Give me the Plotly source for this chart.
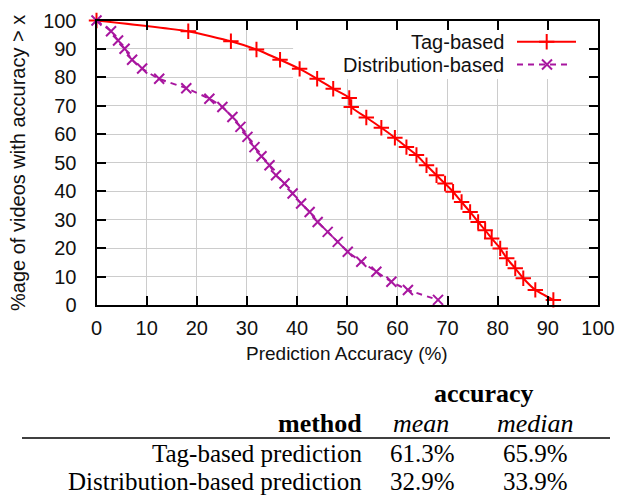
import plotly.graph_objects as go

# ---------------- data ----------------
tag_x = [0, 18.3, 26.8, 31.9, 36.6, 40.5, 44.0, 47.2, 50.4, 50.8, 53.8, 56.8, 59.5, 61.8, 63.8,
         65.8, 67.8, 69.5, 71.1, 72.8, 74.5, 76.1, 77.5, 78.8, 80.5, 81.8, 83.5, 85.1, 87.5, 91.1]
tag_y = [100, 96.2, 92.7, 89.8, 86.2, 83.0, 79.5, 76.0, 72.8, 69.6, 65.9, 62.3, 58.8, 55.5, 52.7,
         49.1, 45.6, 42.7, 39.8, 36.2, 32.7, 29.2, 26.3, 23.4, 19.9, 16.4, 12.9, 9.4, 5.3, 1.8]

dist_x = [0, 2.9, 4.3, 5.6, 7.1, 9.1, 12.5, 17.9, 22.5, 25.1, 27.1, 28.7, 30.1, 31.5, 32.9,
          34.5, 35.8, 37.5, 39.1, 40.8, 42.5, 44.1, 46.1, 48.1, 50.1, 52.8, 55.8, 58.8, 62.1, 68.1]
dist_y = [100, 96.2, 93.0, 90.1, 86.2, 83.1, 79.5, 76.2, 72.5, 69.6, 66.1, 62.6, 59.1, 55.5, 52.3,
          49.1, 45.6, 42.7, 39.2, 35.7, 32.7, 29.2, 25.7, 22.2, 18.7, 15.2, 11.7, 8.2, 5.3, 1.8]

series_names = ["Tag-based", "Distribution-based"]
tick_vals = list(range(0, 101, 10))

table_methods = ["Tag-based prediction", "Distribution-based prediction"]
table_mean = ["61.3%", "32.9%"]
table_median = ["65.9%", "33.9%"]

# ---------------- style ----------------
W, H = 618, 495
RED = "#ff0000"
PURPLE = "#a8169f"
SANS = "Liberation Sans, Arial, sans-serif"
SERIF = "Liberation Serif, Times New Roman, serif"
PX_L, PX_R, PX_T, PX_B = 96.5, 598, 20.5, 305


def px(x):
    return x / W


def py(y):
    return 1 - y / H


fig = go.Figure()

fig.add_trace(go.Scatter(
    x=tag_x, y=tag_y, mode="lines+markers", name=series_names[0],
    line=dict(color=RED, width=2, shape="spline", smoothing=0.5),
    marker=dict(symbol="cross-thin", size=11, line=dict(color=RED, width=2)),
    cliponaxis=False, showlegend=False))

fig.add_trace(go.Scatter(
    x=dist_x, y=dist_y, mode="lines+markers", name=series_names[1],
    line=dict(color=PURPLE, width=2, dash="6px,5px", shape="spline", smoothing=0.5),
    marker=dict(symbol="x-thin", size=10, line=dict(color=PURPLE, width=2)),
    cliponaxis=False, showlegend=False))

# legend sample markers on a full-figure pixel overlay
LEG_MX = [546.7, 547]
LEG_MY = [41.7, 64.5]
fig.add_trace(go.Scatter(
    x=[LEG_MX[0]], y=[LEG_MY[0]], mode="markers", xaxis="x2", yaxis="y2",
    marker=dict(symbol="cross-thin", size=11, line=dict(color=RED, width=2)),
    showlegend=False, hoverinfo="skip", cliponaxis=False))
fig.add_trace(go.Scatter(
    x=[LEG_MX[1]], y=[LEG_MY[1]], mode="markers", xaxis="x2", yaxis="y2",
    marker=dict(symbol="x-thin", size=10, line=dict(color=PURPLE, width=2)),
    showlegend=False, hoverinfo="skip", cliponaxis=False))

axis_common = dict(
    range=[0, 100], tickvals=tick_vals, ticks="inside", ticklen=9, tickwidth=1.5,
    tickcolor="black", showline=True, linecolor="black", linewidth=2, mirror="ticks",
    showgrid=True, gridcolor="#cccccc", gridwidth=1, zeroline=False, automargin=False,
    tickfont=dict(family=SANS, size=20, color="#111111"),
)

fig.update_layout(
    width=W, height=H,
    margin=dict(l=0, r=0, t=0, b=0, autoexpand=False),
    paper_bgcolor="white", plot_bgcolor="rgba(0,0,0,0)",
    xaxis=dict(domain=[px(PX_L), px(PX_R)], ticklabelstandoff=4, **axis_common),
    yaxis=dict(domain=[py(PX_B), py(PX_T)], ticklabelstandoff=14, **axis_common),
    xaxis2=dict(domain=[0, 1], range=[0, W], visible=False, anchor="y2", fixedrange=True,
                showgrid=False, zeroline=False, automargin=False),
    yaxis2=dict(domain=[0, 1], range=[H, 0], visible=False, anchor="x2", fixedrange=True,
                showgrid=False, zeroline=False, automargin=False),
    showlegend=False,
)

shapes = []
# legend box (clears the grid)
shapes.append(dict(type="rect", xref="x", yref="y", layer="between",
                   x0=39.2, x1=99.7, y0=79.4, y1=99.6,
                   fillcolor="white", line=dict(width=0)))
# legend sample lines
shapes.append(dict(type="line", xref="paper", yref="paper",
                   x0=px(517), x1=px(576), y0=py(41.7), y1=py(41.7),
                   line=dict(color=RED, width=2)))
shapes.append(dict(type="line", xref="paper", yref="paper",
                   x0=px(517), x1=px(572), y0=py(64.5), y1=py(64.5),
                   line=dict(color=PURPLE, width=2, dash="6px,5px")))
# table rule
shapes.append(dict(type="line", xref="paper", yref="paper",
                   x0=px(22), x1=px(610), y0=py(438), y1=py(438),
                   line=dict(color="black", width=1.5)))
fig.update_layout(shapes=shapes)

ann = []
# legend texts
for name, yy in zip(series_names, [41.7, 64.5]):
    ann.append(dict(text=name, x=px(506), y=py(yy), xref="paper", yref="paper",
                    xanchor="right", yanchor="middle", showarrow=False,
                    font=dict(family=SANS, size=20, color="#111111")))
# axis titles
ann.append(dict(text="Prediction Accuracy (%)", x=px(347), y=py(353), xref="paper", yref="paper",
                xanchor="center", yanchor="middle", showarrow=False,
                font=dict(family=SANS, size=19, color="#111111")))
ann.append(dict(text="%age of videos with accuracy > x", x=px(18), y=py(163), xref="paper", yref="paper",
                xanchor="center", yanchor="middle", showarrow=False, textangle=-90,
                font=dict(family=SANS, size=20, color="#111111")))
# table
TBL = 25
ann.append(dict(text="<b>accuracy</b>", x=px(484), y=py(393), xref="paper", yref="paper",
                xanchor="center", yanchor="middle", showarrow=False, borderpad=0,
                font=dict(family=SERIF, size=TBL + 1, color="black")))
ann.append(dict(text="<b>method</b>", x=px(363), y=py(423), xref="paper", yref="paper",
                xanchor="right", yanchor="middle", showarrow=False, borderpad=0,
                font=dict(family=SERIF, size=TBL + 1, color="black")))
ann.append(dict(text="<i>mean</i>", x=px(421), y=py(423), xref="paper", yref="paper",
                xanchor="center", yanchor="middle", showarrow=False, borderpad=0,
                font=dict(family=SERIF, size=TBL + 1, color="black")))
ann.append(dict(text="<i>median</i>", x=px(535), y=py(423), xref="paper", yref="paper",
                xanchor="center", yanchor="middle", showarrow=False, borderpad=0,
                font=dict(family=SERIF, size=TBL + 1, color="black")))
row_y = [453, 481]
for m, mn, md, yy in zip(table_methods, table_mean, table_median, row_y):
    ann.append(dict(text=m, x=px(363), y=py(yy), xref="paper", yref="paper",
                    xanchor="right", yanchor="middle", showarrow=False, borderpad=0,
                    font=dict(family=SERIF, size=TBL, color="black")))
    ann.append(dict(text=mn, x=px(422), y=py(yy), xref="paper", yref="paper",
                    xanchor="center", yanchor="middle", showarrow=False, borderpad=0,
                    font=dict(family=SERIF, size=TBL, color="black")))
    ann.append(dict(text=md, x=px(535), y=py(yy), xref="paper", yref="paper",
                    xanchor="center", yanchor="middle", showarrow=False, borderpad=0,
                    font=dict(family=SERIF, size=TBL, color="black")))
fig.update_layout(annotations=ann)

fig.write_html("out.html")
